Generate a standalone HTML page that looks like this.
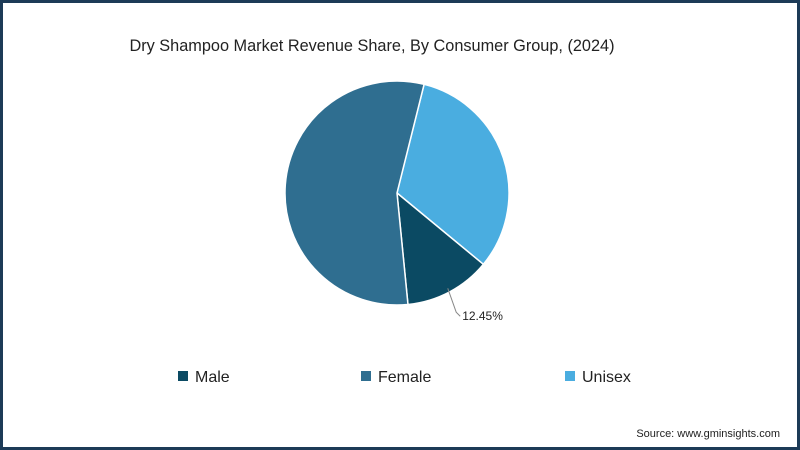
<!DOCTYPE html>
<html><head><meta charset="utf-8"><style>
body{margin:0;background:#fff}
#c{position:relative;width:800px;height:450px;box-sizing:border-box;border:3px solid #1d3b57;background:#fff;font-family:"Liberation Sans",sans-serif;overflow:hidden}
</style></head><body>
<div id="c">
<svg width="794" height="444" viewBox="3 3 794 444" style="position:absolute;left:0;top:0">
<text x="372" y="51" text-anchor="middle" font-size="16.3" fill="#222">Dry Shampoo Market Revenue Share, By Consumer Group, (2024)</text>
<g id="slices"></g>
<g id="labels"></g>
<g id="legend"></g>
<text x="780" y="437" text-anchor="end" font-size="11" fill="#222">Source: www.gminsights.com</text>
</svg>
</div>
<script>
const categories=["Unisex","Male","Female"];
const values=[32.1,12.45,55.45];
const printed=["","12.45%",""];
const colors={"Male":"#0b4a63","Female":"#2f6e90","Unisex":"#4aade0"};
const legendOrder=["Male","Female","Unisex"];
const ns="http://www.w3.org/2000/svg";
const cx=397,cy=193,r=112,start=14;
const total=values.reduce((a,b)=>a+b,0);
function pt(deg,rr){const a=(deg-90)*Math.PI/180;return [cx+rr*Math.cos(a),cy+rr*Math.sin(a)];}
const sg=document.getElementById('slices'),lg=document.getElementById('labels');
let ang=start;
values.forEach((v,i)=>{
 const sw=v/total*360,a0=ang,a1=ang+sw;ang=a1;
 const p0=pt(a0,r),p1=pt(a1,r);
 const p=document.createElementNS(ns,'path');
 p.setAttribute('d',`M${cx},${cy}L${p0[0]},${p0[1]}A${r},${r} 0 ${sw>180?1:0} 1 ${p1[0]},${p1[1]}Z`);
 p.setAttribute('fill',colors[categories[i]]);p.setAttribute('stroke','#fff');p.setAttribute('stroke-width','1.5');
 
 
 sg.appendChild(p);
 if(printed[i]){
  const m=(a0+a1)/2,q=pt(m,r-4),e=pt(m,r+14);
  const l=document.createElementNS(ns,'polyline');
  l.setAttribute('points',`${q[0]},${q[1]} ${e[0]},${e[1]+8} ${e[0]+4},${e[1]+12}`);
  l.setAttribute('fill','none');l.setAttribute('stroke','#888');l.setAttribute('stroke-width','1');
  
  
  lg.appendChild(l);
  const t=document.createElementNS(ns,'text');
  t.setAttribute('x',e[0]+6);t.setAttribute('y',e[1]+16);t.setAttribute('font-size','12');t.setAttribute('fill','#222');
  t.textContent=printed[i];
  
  
  lg.appendChild(t);
 }
});
const leg=document.getElementById('legend');
const lx=[178,361,565];
legendOrder.forEach((n,i)=>{
 const g=document.createElementNS(ns,'g');
 
 
 const s=document.createElementNS(ns,'rect');
 s.setAttribute('x',lx[i]);s.setAttribute('y',371);s.setAttribute('width',10);s.setAttribute('height',10);s.setAttribute('fill',colors[n]);
 g.appendChild(s);
 const t=document.createElementNS(ns,'text');
 t.setAttribute('x',lx[i]+17);t.setAttribute('y',382);t.setAttribute('font-size','16');t.setAttribute('fill','#222');
 t.textContent=n;g.appendChild(t);
 leg.appendChild(g);
});
</script>
</body></html>
